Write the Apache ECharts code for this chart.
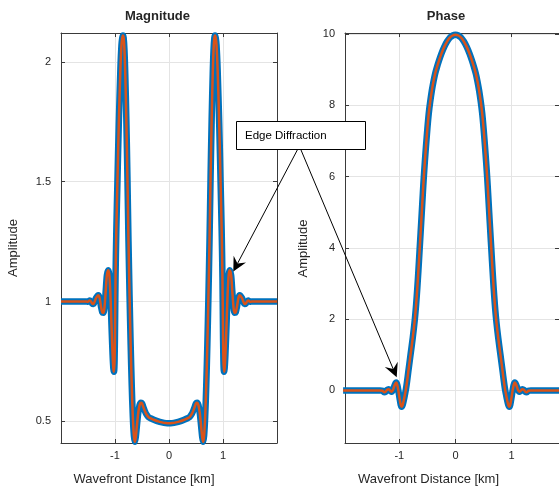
<!DOCTYPE html>
<html><head><meta charset="utf-8">
<script src="https://cdn.jsdelivr.net/npm/echarts@6/dist/echarts.min.js"></script>
<style>html,body{margin:0;padding:0;background:#fff}#c{width:559px;height:490px}</style>
</head><body><div id="c"></div>
<script>
// ---------------- data ----------------
const magX = [-2.00,-1.80,-1.60,-1.53,-1.50,-1.47,-1.445,-1.42,-1.40,-1.375,-1.35,-1.31,-1.285,-1.26,-1.235,-1.215,-1.195,-1.17,-1.15,-1.125,-1.105,-1.085,-1.065,-1.045,-1.03,-1.018,-1.007,-0.998,-0.99,-0.975,-0.955,-0.93,-0.90,-0.88,-0.865,-0.853,-0.84,-0.825,-0.81,-0.79,-0.77,-0.75,-0.73,-0.71,-0.69,-0.67,-0.65,-0.633,-0.615,-0.595,-0.57,-0.545,-0.52,-0.50,-0.475,-0.45,-0.42,-0.38,-0.33,-0.27,-0.20,-0.13,-0.06,0,
0.06,0.13,0.20,0.27,0.33,0.38,0.42,0.45,0.475,0.50,0.52,0.545,0.57,0.595,0.615,0.633,0.65,0.67,0.69,0.71,0.73,0.75,0.77,0.79,0.81,0.825,0.84,0.853,0.865,0.88,0.90,0.93,0.955,0.975,0.99,0.998,1.007,1.018,1.03,1.045,1.065,1.085,1.105,1.125,1.15,1.17,1.195,1.215,1.235,1.26,1.285,1.31,1.35,1.375,1.40,1.42,1.445,1.47,1.50,1.53,1.60,1.80,2.00];
const magY = [1.000,1.000,1.000,1.000,0.999,1.004,1.000,0.991,0.990,1.000,1.015,1.026,1.015,0.980,0.955,0.953,0.975,1.050,1.110,1.130,1.110,1.030,0.900,0.780,0.720,0.707,0.760,0.920,1.100,1.300,1.500,1.740,1.970,2.070,2.100,2.110,2.100,2.050,1.950,1.760,1.520,1.250,1.020,0.820,0.650,0.520,0.440,0.415,0.435,0.480,0.535,0.568,0.578,0.575,0.560,0.545,0.530,0.518,0.512,0.506,0.500,0.496,0.493,0.492,
0.493,0.496,0.500,0.506,0.512,0.518,0.530,0.545,0.560,0.575,0.578,0.568,0.535,0.480,0.435,0.415,0.440,0.520,0.650,0.820,1.020,1.250,1.520,1.760,1.950,2.050,2.100,2.110,2.100,2.070,1.970,1.740,1.500,1.300,1.100,0.920,0.760,0.707,0.720,0.780,0.900,1.030,1.110,1.130,1.110,1.050,0.975,0.953,0.955,0.980,1.015,1.026,1.015,1.000,0.990,0.991,1.000,1.004,0.999,1.000,1.000,1.000,1.000];

const phaseX = [-2.00,-1.60,-1.40,-1.34,-1.30,-1.27,-1.245,-1.22,-1.19,-1.16,-1.135,-1.11,-1.08,-1.055,-1.035,-1.015,-0.995,-0.975,-0.958,-0.94,-0.92,-0.90,-0.88,-0.86,-0.84,-0.80,-0.76,-0.725,-0.70,-0.68,-0.66,-0.64,-0.62,-0.60,-0.58,-0.565,-0.545,-0.525,-0.50,-0.475,-0.45,-0.42,-0.39,-0.36,-0.33,-0.29,-0.25,-0.20,-0.15,-0.10,-0.05,0,
0.05,0.10,0.15,0.20,0.25,0.29,0.33,0.36,0.39,0.42,0.45,0.475,0.50,0.525,0.545,0.565,0.58,0.60,0.62,0.64,0.66,0.68,0.70,0.725,0.76,0.80,0.84,0.86,0.88,0.90,0.92,0.94,0.958,0.975,0.995,1.015,1.035,1.055,1.08,1.11,1.135,1.16,1.19,1.22,1.245,1.27,1.30,1.34,1.40,1.60,2.00];
const phaseY = [0,0,0,0,-0.01,-0.05,-0.04,0.01,0.035,-0.01,-0.04,0.02,0.16,0.22,0.15,-0.02,-0.22,-0.40,-0.46,-0.41,-0.28,-0.12,0.05,0.27,0.52,1.0,1.48,1.97,2.42,2.86,3.36,3.90,4.44,4.99,5.55,5.95,6.42,6.85,7.35,7.78,8.10,8.42,8.68,8.90,9.07,9.27,9.45,9.64,9.79,9.90,9.96,9.98,
9.96,9.90,9.79,9.64,9.45,9.27,9.07,8.90,8.68,8.42,8.10,7.78,7.35,6.85,6.42,5.95,5.55,4.99,4.44,3.90,3.36,2.86,2.42,1.97,1.48,1.0,0.52,0.27,0.05,-0.12,-0.28,-0.41,-0.46,-0.40,-0.22,-0.02,0.15,0.22,0.16,0.02,-0.04,-0.01,0.035,0.01,-0.04,-0.05,-0.01,0,0,0,0];

const xTicks = [-1, 0, 1];
const magYTicks = [0.5, 1, 1.5, 2];
const phaseYTicks = [0, 2, 4, 6, 8, 10];
const titles = ['Magnitude', 'Phase'];
const xName = 'Wavefront Distance [km]';
const yName = 'Amplitude';
const noteText = 'Edge Diffraction';

// ---------------- style ----------------
const FONT = '"Liberation Sans", Arial, Helvetica, sans-serif';
const AXC = '#3a3a3a';
const LBL = '#262626';
const GRIDC = '#e4e4e4';
const BLUE = '#0072BD';
const ORANGE = '#D95319';

function xAxes(grid, min, max) {
  return [
    {type:'value', gridIndex:grid, min:min, max:max, position:'bottom',
     axisLine:{show:true, onZero:false, lineStyle:{color:AXC, width:1}},
     axisTick:{show:true, inside:true, length:4, customValues:xTicks, lineStyle:{color:AXC}},
     axisLabel:{show:true, customValues:xTicks, margin:7, color:LBL, fontSize:11, fontFamily:FONT, formatter:v=>String(v)},
     splitLine:{show:true, lineStyle:{color:GRIDC, width:1}}},
    {type:'value', gridIndex:grid, min:min, max:max, position:'top',
     axisLine:{show:true, onZero:false, lineStyle:{color:AXC, width:1}},
     axisTick:{show:true, inside:true, length:4, customValues:xTicks, lineStyle:{color:AXC}},
     axisLabel:{show:false}, splitLine:{show:false}}
  ];
}
function yAxes(grid, min, max, ticks) {
  return [
    {type:'value', gridIndex:grid, min:min, max:max, position:'left',
     axisLine:{show:true, onZero:false, lineStyle:{color:AXC, width:1}},
     axisTick:{show:true, inside:true, length:4, customValues:ticks, lineStyle:{color:AXC}},
     axisLabel:{show:true, customValues:ticks, margin:10, color:LBL, fontSize:11, fontFamily:FONT, formatter:v=>String(v)},
     splitLine:{show:true, lineStyle:{color:GRIDC, width:1}}},
    {type:'value', gridIndex:grid, min:min, max:max, position:'right',
     axisLine:{show:true, onZero:false, lineStyle:{color:AXC, width:1}},
     axisTick:{show:true, inside:true, length:4, customValues:ticks, lineStyle:{color:AXC}},
     axisLabel:{show:false}, splitLine:{show:false}}
  ];
}
function pairs(xs, ys){ return xs.map((x,i)=>[x, ys[i]]); }
function lineSeries(xi, yi, data, color, width, z) {
  return {type:'line', xAxisIndex:xi, yAxisIndex:yi, data:data, symbol:'none', showSymbol:false,
    smooth:0.3, silent:true, z:z, clip:true,
    lineStyle:{color:color, width:width, join:'round', cap:'butt'}};
}
function arrow(sx, sy, tx, ty) {
  const dx = tx - sx, dy = ty - sy, L = Math.hypot(dx, dy);
  const ux = dx / L, uy = dy / L, nx = -uy, ny = ux;
  const hl = 14, hw = 7, nd = 9;
  const bx = tx - hl * ux, by = ty - hl * uy;
  const mx = tx - nd * ux, my = ty - nd * uy;
  return [
    {type:'line', z:100, shape:{x1:sx, y1:sy, x2:mx, y2:my}, style:{stroke:'#000', lineWidth:1}},
    {type:'polygon', z:100, shape:{points:[[tx,ty],[bx+hw*nx,by+hw*ny],[mx,my],[bx-hw*nx,by-hw*ny]]}, style:{fill:'#000'}}
  ];
}
function txt(t, x, y, size, weight, rot) {
  return {type:'text', z:100, x:x, y:y, rotation:rot||0,
    style:{text:t, font:weight+' '+size+'px '+FONT, fill:'#262626',
      align:'center', verticalAlign:'middle', textAlign:'center', textVerticalAlign:'middle'}};
}

const chart = echarts.init(document.getElementById('c'), null, {renderer:'canvas'});
const magData = pairs(magX, magY);
const phaseData = pairs(phaseX, phaseY);

const graphics = [
  txt(titles[0], 157.5, 16.5, 13, 'bold'),
  txt(titles[1], 446, 16.5, 13, 'bold'),
  txt(xName, 144, 479.5, 13, 'normal'),
  txt(xName, 428.5, 479.5, 13, 'normal'),
  txt(yName, 13.5, 248, 13, 'normal', Math.PI/2),
  txt(yName, 303, 248.5, 13, 'normal', Math.PI/2),
  {type:'rect', z:100, shape:{x:236.5, y:121.5, width:129, height:28}, style:{fill:'#fff', stroke:'#000', lineWidth:1}},
  {type:'text', z:101, x:245, y:136, style:{text:noteText, font:'normal 11.5px '+FONT, fill:'#000',
     align:'left', verticalAlign:'middle', textAlign:'left', textVerticalAlign:'middle'}}
].concat(arrow(297.3, 150, 233.3, 271.5)).concat(arrow(301, 150, 396.7, 377.3));

chart.setOption({
  animation:false,
  backgroundColor:'#fff',
  grid:[
    {left:61, top:33, width:216, height:410, show:false, outerBoundsMode:'none', containLabel:false},
    {left:345, top:33, width:214, height:410, show:false, outerBoundsMode:'none', containLabel:false}
  ],
  xAxis: xAxes(0, -2, 2).concat(xAxes(1, -1.966, 1.842)),
  yAxis: yAxes(0, 0.41, 2.12, magYTicks).concat(yAxes(1, -1.476, 10.03, phaseYTicks)),
  series:[
    lineSeries(0, 0, magData, BLUE, 6.5, 2),
    lineSeries(0, 0, magData, ORANGE, 2.5, 3),
    lineSeries(2, 2, phaseData, BLUE, 6.5, 2),
    lineSeries(2, 2, phaseData, ORANGE, 2.5, 3)
  ],
  graphic:{elements:graphics}
});
</script>
</body></html>
